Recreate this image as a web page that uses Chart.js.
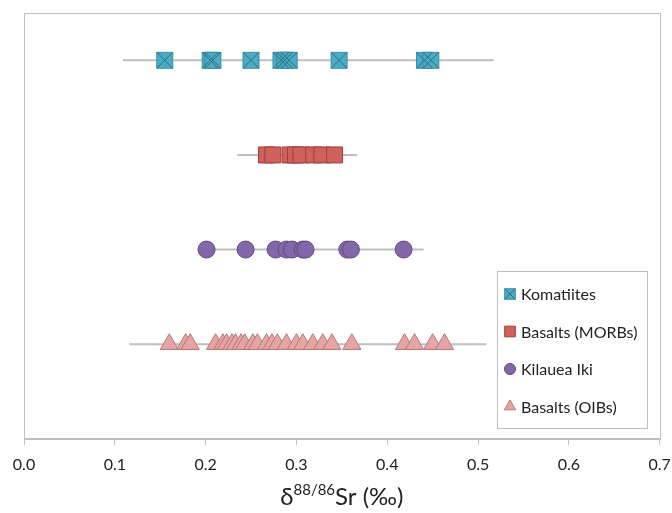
<!DOCTYPE html>
<html>
<head>
<meta charset="utf-8">
<script src="https://cdn.jsdelivr.net/npm/chart.js@4.4.0/dist/chart.umd.min.js"></script>
<style>
  html, body { margin: 0; padding: 0; background: #fff; }
  #wrap { width: 672px; height: 513px; }
</style>
</head>
<body>
<div id="wrap"><canvas id="chart" width="672" height="513"></canvas></div>
<script>
// d88/86Sr values (per mil)
const komatiites = [0.155, 0.205, 0.208, 0.250, 0.283, 0.287, 0.292, 0.347, 0.441, 0.448];
const morbs = [0.267, 0.274, 0.293, 0.299, 0.305, 0.319, 0.328, 0.342];
const kilauea = [0.201, 0.244, 0.277, 0.289, 0.295, 0.307, 0.310, 0.356, 0.360, 0.418];
const oibs = [0.160, 0.178, 0.183, 0.211, 0.219, 0.223, 0.229, 0.233, 0.239, 0.243, 0.252, 0.257,
              0.267, 0.273, 0.279, 0.289, 0.300, 0.307, 0.318, 0.329, 0.339, 0.361, 0.419, 0.430,
              0.450, 0.463];

// grey range bar behind each group: [min, max]
const komatiitesRange = [0.109, 0.517];
const morbsRange = [0.235, 0.367];
const kilaueaRange = [0.191, 0.440];
const oibsRange = [0.116, 0.509];

// row of each group on the hidden y axis
const rowKomatiites = 4;
const rowMorbs = 3;
const rowKilauea = 2;
const rowOibs = 1;

const xTicks = [0.0, 0.1, 0.2, 0.3, 0.4, 0.5, 0.6, 0.7];
const legendLabels = ['Komatiites', 'Basalts (MORBs)', 'Kilauea Iki', 'Basalts (OIBs)'];

const FONT = 'Lato, "Liberation Sans", sans-serif';
const GREY = '#BFBFBF';

// styles
const kStyle = { fill: '#4BACC6', border: '#3A8FA8', cross: '#2C6A7C' };
const mStyle = { fill: '#D0605C', border: '#9C3F3C' };
const iStyle = { fill: '#8467A8', border: '#5F4880' };
const oStyle = { fill: '#E6A5A5', border: '#B57675' };

function pts(values, row) {
    return values.map(v => ({ x: v, y: row }));
}

function rangeLine(range, row) {
    return {
        type: 'scatter',
        data: pts(range, row),
        showLine: true,
        borderColor: GREY,
        borderWidth: 2,
        pointRadius: 0,
        order: 10
    };
}

// plot-area frame
const framePlugin = {
    id: 'frame',
    beforeDatasetsDraw(chart) {
        const a = chart.chartArea;
        const ctx = chart.ctx;
        ctx.save();
        ctx.strokeStyle = GREY;
        ctx.lineWidth = 1;
        ctx.strokeRect(Math.round(a.left) + 0.5, Math.round(a.top) + 0.5,
                       Math.round(a.right - a.left), Math.round(a.bottom - a.top));
        ctx.restore();
    }
};

// legend box inside the plot, lower right
const legendPlugin = {
    id: 'boxLegend',
    afterDraw(chart) {
        const ctx = chart.ctx;
        const bx = 497.5, by = 271.5, bw = 150, bh = 157;
        ctx.save();
        ctx.fillStyle = '#fff';
        ctx.fillRect(bx, by, bw, bh);
        ctx.strokeStyle = GREY;
        ctx.lineWidth = 1;
        ctx.strokeRect(bx, by, bw, bh);

        const styles = [kStyle, mStyle, iStyle, oStyle];
        const shapes = ['rect', 'rect', 'circle', 'triangle'];
        const radii = [7.5, 7.5, 5.5, 6.5];
        ctx.font = '16px ' + FONT;
        ctx.textBaseline = 'middle';
        legendLabels.forEach((label, i) => {
            const y = 294 + i * 37.5;
            const x = 510;
            const st = styles[i];
            ctx.fillStyle = st.fill;
            ctx.strokeStyle = st.border;
            ctx.lineWidth = 1;
            Chart.helpers.drawPoint(ctx, { pointStyle: shapes[i], radius: radii[i], borderWidth: 1, rotation: 0 }, x, y);
            if (i === 0) {
                ctx.strokeStyle = st.cross;
                Chart.helpers.drawPoint(ctx, { pointStyle: 'crossRot', radius: radii[i], borderWidth: 1, rotation: 0 }, x, y);
            }
            ctx.fillStyle = '#222';
            ctx.fillText(label, 521, y + 1);
        });
        ctx.restore();
    }
};

// axis title with superscript
const titlePlugin = {
    id: 'axisTitle',
    afterDraw(chart) {
        const ctx = chart.ctx;
        const a = chart.chartArea;
        const parts = [
            { t: '\u03B4', f: '24px ' + FONT, dy: 0 },
            { t: '88/86', f: '15px ' + FONT, dy: -10 },
            { t: 'Sr (\u2030)', f: '24px ' + FONT, dy: 0 }
        ];
        ctx.save();
        ctx.fillStyle = '#222';
        ctx.textBaseline = 'alphabetic';
        let total = 0;
        parts.forEach(p => { ctx.font = p.f; p.w = ctx.measureText(p.t).width; total += p.w; });
        let x = (a.left + a.right) / 2 - total / 2;
        const base = 505;
        parts.forEach(p => {
            ctx.font = p.f;
            ctx.fillText(p.t, x, base + p.dy);
            x += p.w;
        });
        ctx.restore();
    }
};

const datasets = [
    rangeLine(komatiitesRange, rowKomatiites),
    rangeLine(morbsRange, rowMorbs),
    rangeLine(kilaueaRange, rowKilauea),
    rangeLine(oibsRange, rowOibs),
    {
        label: 'Komatiites',
        data: pts(komatiites, rowKomatiites),
        pointStyle: 'rect',
        pointRadius: 11.3,
        backgroundColor: kStyle.fill,
        borderColor: kStyle.border,
        borderWidth: 1,
        order: 2
    },
    {
        label: 'Komatiites cross',
        data: pts(komatiites, rowKomatiites),
        pointStyle: 'crossRot',
        pointRadius: 11.3,
        borderColor: kStyle.cross,
        borderWidth: 1,
        order: 1
    },
    {
        label: 'Basalts (MORBs)',
        data: pts(morbs, rowMorbs),
        pointStyle: 'rect',
        pointRadius: 11.3,
        backgroundColor: mStyle.fill,
        borderColor: mStyle.border,
        borderWidth: 1,
        order: 1
    },
    {
        label: 'Kilauea Iki',
        data: pts(kilauea, rowKilauea),
        pointStyle: 'circle',
        pointRadius: 8.5,
        backgroundColor: iStyle.fill,
        borderColor: iStyle.border,
        borderWidth: 1,
        order: 1
    },
    {
        label: 'Basalts (OIBs)',
        data: pts(oibs, rowOibs),
        pointStyle: 'triangle',
        pointRadius: 10.5,
        backgroundColor: oStyle.fill,
        borderColor: oStyle.border,
        borderWidth: 1,
        order: 1
    }
];

new Chart(document.getElementById('chart'), {
    type: 'scatter',
    data: { datasets },
    options: {
        responsive: false,
        animation: false,
        devicePixelRatio: 1,
        layout: { padding: { left: 24, right: 12, top: 13, bottom: 29 } },
        plugins: {
            legend: { display: false },
            tooltip: { enabled: false }
        },
        scales: {
            x: {
                type: 'linear',
                min: 0,
                max: 0.7,
                afterBuildTicks: s => { s.ticks = xTicks.map(v => ({ value: v })); },
                // labels may overhang the plot edges, as in the original
                afterFit: s => { s.paddingLeft = 0; s.paddingRight = 0; },
                ticks: {
                    callback: v => v.toFixed(1),
                    font: { family: FONT, size: 16 },
                    color: '#222',
                    padding: 10,
                    maxRotation: 0
                },
                grid: { drawOnChartArea: false, drawTicks: true, tickLength: 6, color: GREY },
                border: { display: true, color: GREY }
            },
            y: {
                min: 0,
                max: 4.5,
                display: false
            }
        }
    },
    plugins: [framePlugin, legendPlugin, titlePlugin]
});
</script>
</body>
</html>
